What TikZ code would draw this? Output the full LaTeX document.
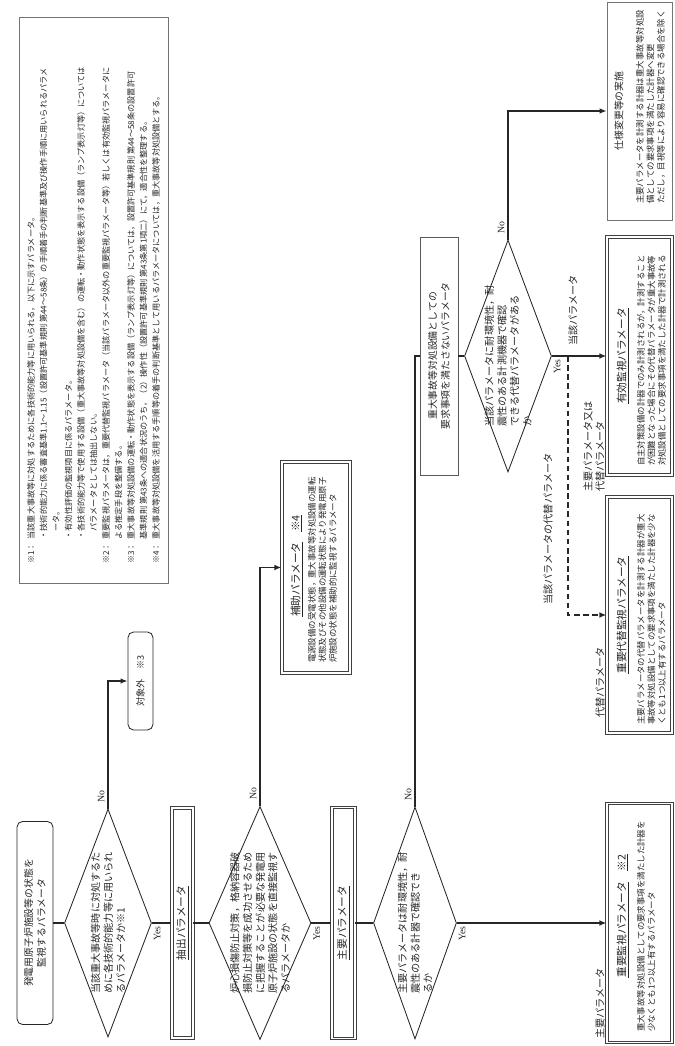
\documentclass[tikz,border=0pt]{standalone}
\usepackage{fontspec}
\setmainfont{Noto Sans CJK JP}
\newfontfamily\latinfont{Liberation Serif}
\usepackage{tikz}
\usetikzlibrary{shapes.geometric, arrows.meta}

\newcommand{\notemark}[1]{\makebox[3em][l]{#1}}

\begin{document}
\begin{tikzpicture}[rotate=90, transform shape, x=0.025cm, y=0.025cm,
    line width=1pt, black!85,
    every node/.style={inner sep=1pt, font=\fontsize{6}{7.4}\selectfont},
    ask/.style={diamond, draw, line width=0.6pt, inner sep=0pt},
    asktext/.style={align=left, font=\fontsize{7.2}{9}\selectfont},
    rbox/.style={draw, line width=0.6pt, rounded corners=4pt, align=center, font=\fontsize{7}{9}\selectfont},
    dbox/.style={draw=black!75, double, double distance=1.1pt, line width=0.7pt},
    sbox/.style={draw=black!55, line width=0.5pt},
    boxtitle/.style={font=\fontsize{7.6}{9}\selectfont},
    boxbody/.style={anchor=north west, align=left},
    yn/.style={font=\latinfont\fontsize{7}{8}\selectfont},
    lbl/.style={anchor=west, align=left, font=\fontsize{7.2}{8.6}\selectfont},
    arr/.style={-{Latex[length=5pt, width=4pt]}}]
    \useasboundingbox (0,0) rectangle (1046,675);

    % notes
    \node[sbox, minimum width=14.15cm, minimum height=3.725cm] (note) at (746,581.5) {};
    \node[anchor=north west, align=left, font=\fontsize{5.8}{8.9}\selectfont] (notetext) at (480,650) {%
        \notemark{※1：}当該重大事故等に対処するために各技術的能力等に用いられる，以下に示すパラメータ。\\
        \hspace*{3em}・技術的能力に係る審査基準1.1～1.15（設置許可基準規則 第44～58条）の手順着手の判断基準及び操作手順に用いられるパラメ\\
        \hspace*{4em}ータ。\\
        \hspace*{3em}・有効性評価の監視項目に係るパラメータ。\\
        \hspace*{3em}・各技術的能力等で使用する設備（重大事故等対処設備を含む）の運転・動作状態を表示する設備（ランプ表示灯等）については\\
        \hspace*{4em}パラメータとしては抽出しない。\\
        \notemark{※2：}重要監視パラメータは，重要代替監視パラメータ（当該パラメータ以外の重要監視パラメータ等）若しくは有効監視パラメータに\\
        \hspace*{3em}よる推定手段を整備する。\\
        \notemark{※3：}重大事故等対処設備の運転・動作状態を表示する設備（ランプ表示灯等）については，設置許可基準規則 第44～58条の設置許可\\
        \hspace*{3em}基準規則 第43条への適合状況のうち，（2）操作性（設置許可基準規則 第43条第1項二）にて，適合性を整理する。\\
        \notemark{※4：}重大事故等対処設備を活用する手順等の着手の判断基準として用いるパラメータについては，重大事故等対処設備とする。};

    % flow, first column
    \node[rbox, minimum width=5.075cm, minimum height=0.9cm] (start) at (123,640) {発電用原子炉施設等の状態を\\監視するパラメータ};
    \node[ask, minimum width=5.7cm, minimum height=2.175cm] (q1) at (123,567) {};
    \node[asktext] (q1t) at (q1) {当該重大事故等時に対処するた\\めに各技術的能力等に用いられ\\るパラメータか※1};
    \node[rbox, font=\fontsize{6.5}{8}\selectfont, minimum width=2.45cm, minimum height=0.625cm] (out) at (365,534.5) {対象外　※3};
    \node[dbox, boxtitle, minimum width=5.75cm, minimum height=0.525cm] (ext) at (123,492.5) {\underline{抽出パラメータ}};
    \node[ask, minimum width=5.825cm, minimum height=2.55cm] (q2) at (123,415) {};
    \node[asktext] (q2t) at (q2) {炉心損傷防止対策，格納容器破\\損防止対策等を成功させるため\\に把握することが必要な発電用\\原子炉施設の状態を直接監視す\\るパラメータか};
    \node[dbox, minimum width=5.275cm, minimum height=1.7cm] (aux) at (478.5,359) {};
    \node[boxtitle] (auxtitle) at (480,378) {\underline{補助パラメータ}\quad\underline{※4}};
    \node[boxbody] (auxbody) at (381,369) {電源設備の受電状態，重大事故等対処設備の運転\\状態及びその他設備の運転状態により発電用原子\\炉施設の状態を補助的に監視するパラメータ};
    \node[dbox, boxtitle, minimum width=5.775cm, minimum height=0.575cm] (main) at (123,331.5) {\underline{主要パラメータ}};
    \node[ask, minimum width=5.8cm, minimum height=2.075cm] (q3) at (123,260) {};
    \node[asktext] (q3t) at (q3) {主要パラメータは耐環境性，耐\\震性のある計器で確認でき\\るか};

    % flow, second column
    \node[sbox, draw=black!65, rbox, rounded corners=0pt, minimum width=5.95cm, minimum height=0.95cm] (ng) at (690,236) {重大事故等対処設備としての\\要求事項を満たさないパラメータ};
    \node[ask, minimum width=5.8cm, minimum height=2.175cm] (q4) at (690,167) {};
    \node[asktext] (q4t) at (q4) {当該パラメータに耐環境性，耐\\震性のある計測機器で確認\\できる代替パラメータがある\\か};

    % result boxes
    \node[dbox, minimum width=5.975cm, minimum height=1.625cm] (imp) at (123,35.5) {};
    \node[boxtitle] (imptitle) at (130,52) {\underline{重要監視パラメータ}\quad\underline{※2}};
    \node[boxbody] (impbody) at (12,40) {重大事故等対処設備としての要求事項を満たした計器を\\少なくとも1つ以上有するパラメータ};
    \node[dbox, minimum width=5.9cm, minimum height=1.625cm] (alt) at (431,35.5) {};
    \node[boxtitle] (alttitle) at (431,52) {\underline{重要代替監視パラメータ}};
    \node[boxbody] (altbody) at (319,40) {主要パラメータの代替パラメータを計測する計器が重大\\事故等対処設備としての要求事項を満たした計器を少な\\くとも1つ以上有するパラメータ};
    \node[dbox, minimum width=5.95cm, minimum height=1.625cm] (eff) at (690,35.5) {};
    \node[boxtitle] (efftitle) at (690,52) {\underline{有効監視パラメータ}};
    \node[boxbody] (effbody) at (578,40) {自主対策設備の計器でのみ計測されるが，計測すること\\が困難となった場合にその代替パラメータが重大事故等\\対処設備としての要求事項を満たした計器で計測される};
    \node[sbox, minimum width=5.45cm, minimum height=1.625cm] (chg) at (935,35.5) {};
    \node[font=\fontsize{7}{8}\selectfont] (chgtitle) at (935,56) {仕様変更等の実施};
    \node[boxbody] (chgbody) at (840,41) {主要パラメータを計測する計器は重大事故等対処設\\備としての要求事項を満たした計器へ変更\\ただし，目視等により容易に確認できる場合を除く};

    % connectors
    \draw (start.south) -- (q1.north);
    \draw[arr] (q1.east) -| (out.north);
    \draw (q1.south) -- (ext.north);
    \draw (ext.south) -- (q2.north);
    \draw[arr] (q2.east) -| (aux.north);
    \draw (q2.south) -- (main.north);
    \draw (main.south) -- (q3.north);
    \draw (q3.east) -| (ng.north);
    \draw[arr] (q3.south) -- (imp.north);
    \draw (ng.south) -- (q4.north);
    \draw[arr] (q4.east) -| (chg.north);
    \draw[arr] (q4.south) -- (q4.south |- eff.north);
    \path (q4.south) ++(0,-16) coordinate (split);
    \draw[arr, dash pattern=on 4pt off 2.5pt] (split) -| (alt.north);

    % yes / no
    \foreach \q in {q1, q2, q3, q4} {
        \node[yn, anchor=south west, xshift=3pt, yshift=1pt] (\q no) at (\q.east) {No};
        \node[yn, anchor=north east, xshift=-1pt] (\q yes) at (\q.south) {Yes};
    }

    % branch labels
    \node[lbl] (effin) at (698,102) {当該パラメータ};
    \node[lbl] (altline) at (439,127) {当該パラメータの代替パラメータ};
    \node[lbl] (eitherin) at (552,81) {主要パラメータ又は\\代替パラメータ};
    \node[lbl] (altin) at (326,75) {代替パラメータ};
    \node[lbl] (mainin) at (5,75) {主要パラメータ};
\end{tikzpicture}
\end{document}
